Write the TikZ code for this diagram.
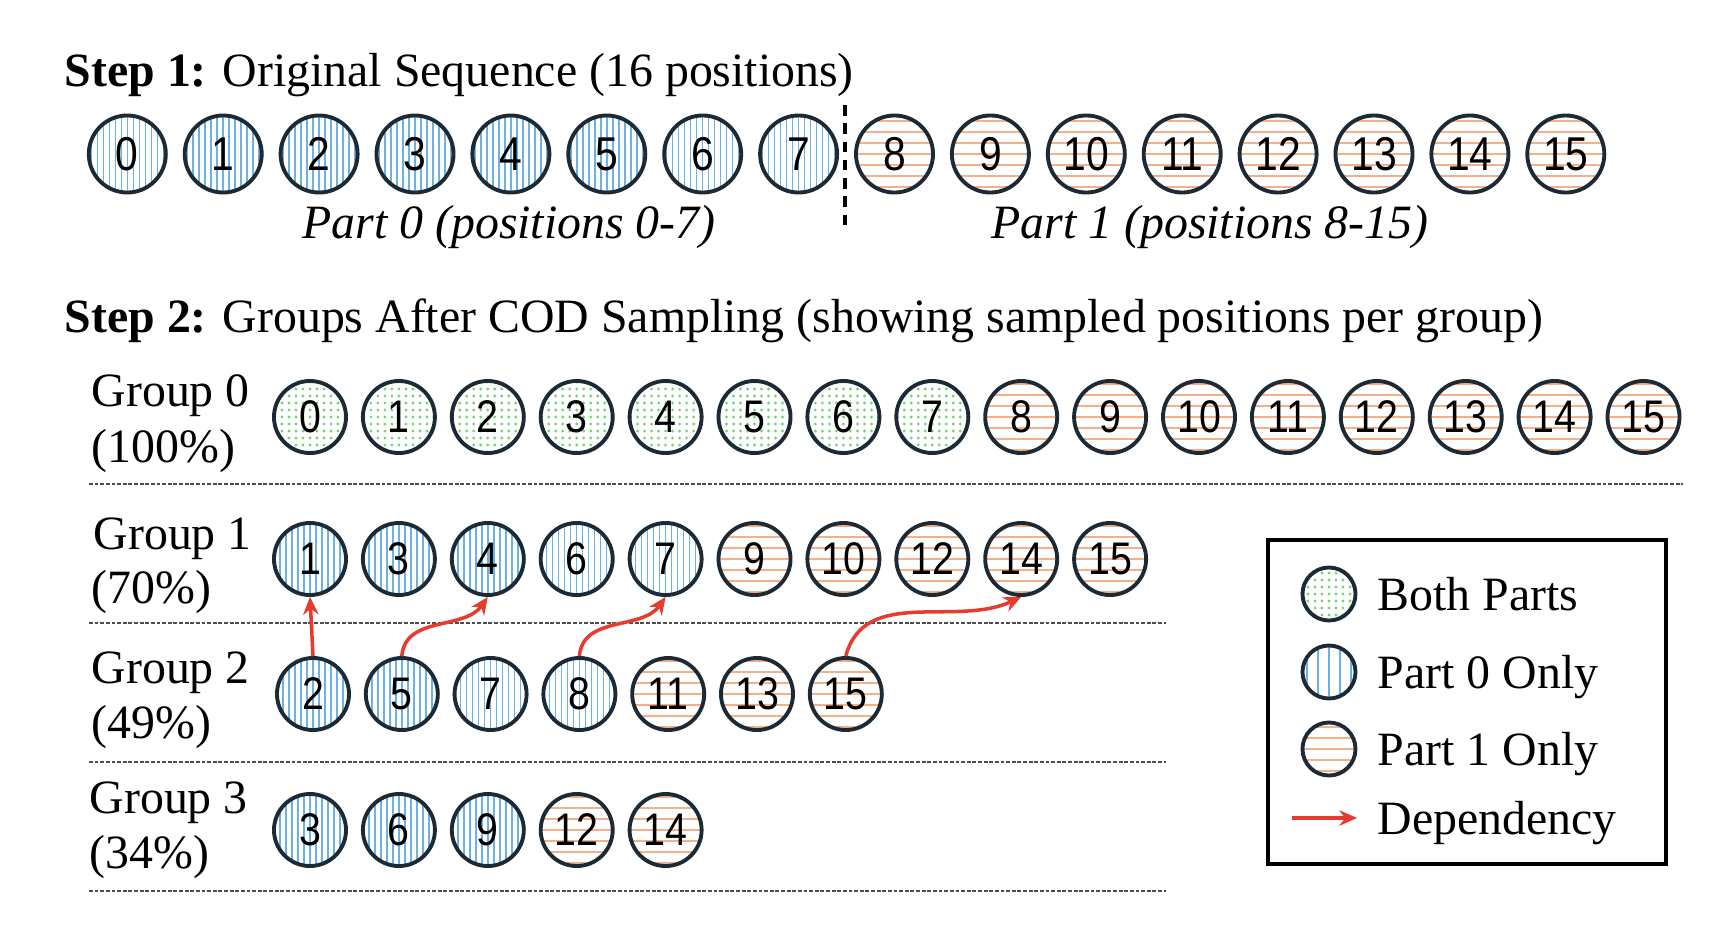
\documentclass[tikz,border=0pt]{standalone}
\usepackage{fontspec}
\setmainfont{Liberation Serif}
\newfontfamily\digfont{Liberation Sans}[FakeStretch=0.86]
\usetikzlibrary{arrows.meta}
\definecolor{ink}{HTML}{1C2A36}
\definecolor{bl}{HTML}{6DB2E4}
\definecolor{orl}{HTML}{F2B189}
\definecolor{grl}{HTML}{74D474}
\definecolor{dep}{HTML}{E63B2E}
\tikzset{
  circ/.style={circle,draw=ink,line width=1.1pt,fill=white,inner sep=0pt},
  bigc/.style={minimum size=0.77cm,font=\digfont\fontsize{13.5}{13.5}\selectfont},
  smlc/.style={minimum size=0.72cm,font=\digfont\fontsize{13}{13}\selectfont},
  legc/.style={minimum size=0.53cm},
  pzero/.style={path picture={\foreach \k in {-7,...,7}{\draw[bl,line width=0.42pt] ([xshift=\k*0.06cm]path picture bounding box.south) -- ([xshift=\k*0.06cm]path picture bounding box.north);}}},
  pone/.style={path picture={\foreach \k in {-4,...,4}{\draw[orl,line width=0.8pt] ([yshift=\k*0.11cm]path picture bounding box.west) -- ([yshift=\k*0.11cm]path picture bounding box.east);}}},
  pboth/.style={path picture={\foreach \i in {-6,...,6}{\foreach \j in {-6,...,6}{\fill[grl] ([shift={(\i*0.07cm,\j*0.07cm)}]path picture bounding box.center) circle (0.016cm);}}}},
  pzeroL/.style={path picture={\foreach \k in {-2,...,2}{\draw[bl,line width=0.5pt] ([xshift=\k*0.11cm]path picture bounding box.south) -- ([xshift=\k*0.11cm]path picture bounding box.north);}}},
  txt/.style={inner sep=0pt,font=\fontsize{13.6}{16}\selectfont},
  sepline/.style={draw=black!70,line width=0.55pt,dash pattern=on 1.1pt off 0.5pt},
  depa/.style={draw=dep,line width=1pt,-{Stealth[length=5pt,width=4.4pt]}},
}
\begin{document}
\begin{tikzpicture}[x=0.01cm,y=-0.01cm]
\useasboundingbox (0,0) rectangle (1736,948);
% Step 1
\node[txt,anchor=base west] (st1) at (64,86) {\textbf{Step 1:} Original Sequence (16 positions)};
\foreach \i in {0,...,7} \node[circ,bigc,pzero] (s\i) at ({127.3+95.9*\i},154) {\i};
\foreach \i in {8,...,15} \node[circ,bigc,pone] (s\i) at ({127.3+95.9*\i},154) {\i};
\coordinate (dvt) at (845,105);
\coordinate (dvb) at (845,227);
\draw[black,line width=0.9pt,dash pattern=on 3pt off 2.2pt] (dvt) -- (dvb);
\node[txt,anchor=base] (p0l) at (509,238) {\itshape Part 0 (positions 0-7)};
\node[txt,anchor=base] (p1l) at (1210,238) {\itshape Part 1 (positions 8-15)};
% Step 2
\node[txt,anchor=base west] (st2) at (64,332) {\textbf{Step 2:} Groups After COD Sampling (showing sampled positions per group)};
% Group 0
\node[txt,anchor=base west] (gl0a) at (91,406) {Group 0};
\node[txt,anchor=base west] (gl0b) at (91,462) {(100\%)};
\foreach \i in {0,...,7} \node[circ,smlc,pboth] (g0n\i) at ({310+88.9*\i},417) {\i};
\foreach \i in {8,...,15} \node[circ,smlc,pone] (g0n\i) at ({310+88.9*\i},417) {\i};
\draw[sepline] (89,484) -- (1683,484);
% Group 1
\node[txt,anchor=base west] (gl1a) at (93,549) {Group 1};
\node[txt,anchor=base west] (gl1b) at (91,603) {(70\%)};
\foreach \v/\s [count=\c from 0] in {1/pzero,3/pzero,4/pzero,6/pzero,7/pzero,9/pone,10/pone,12/pone,14/pone,15/pone}
  \node[circ,smlc,\s] (ga\c) at ({310+88.9*\c},559) {\v};
\draw[sepline] (89,623) -- (1166,623);
% Group 2
\node[txt,anchor=base west] (gl2a) at (91,683) {Group 2};
\node[txt,anchor=base west] (gl2b) at (91,738) {(49\%)};
\foreach \v/\s [count=\c from 0] in {2/pzero,5/pzero,7/pzero,8/pzero,11/pone,13/pone,15/pone}
  \node[circ,smlc,\s] (gb\c) at ({313+88.8*\c},694) {\v};
\draw[sepline] (89,762) -- (1166,762);
% Group 3
\node[txt,anchor=base west] (gl3a) at (89,813) {Group 3};
\node[txt,anchor=base west] (gl3b) at (89,868) {(34\%)};
\foreach \v/\s [count=\c from 0] in {3/pzero,6/pzero,9/pzero,12/pone,14/pone}
  \node[circ,smlc,\s] (gc\c) at ({310+88.9*\c},830) {\v};
\draw[sepline] (89,891) -- (1166,891);
% dependencies
\draw[depa] (gb0.north) -- (ga0.south);
\draw[depa] (gb1.north) to[out=85,in=-125] (ga2.south);
\draw[depa] (gb3.north) to[out=85,in=-125] (ga4.south);
\draw[depa] (gb6.north) to[out=75,in=-155] (ga8.south);
% legend
\draw[black,line width=1pt] (1268,540) rectangle (1666,864);
\node[circ,legc,pboth] (lg1) at (1329,594) {};
\node[circ,legc,pzeroL] (lg2) at (1329,672) {};
\node[circ,legc,pone] (lg3) at (1329,749) {};
\coordinate (la) at (1292,818);
\coordinate (lb) at (1357,818);
\draw[depa] (la) -- (lb);
\node[txt,anchor=base west] (lt1) at (1377,610) {Both Parts};
\node[txt,anchor=base west] (lt2) at (1377,688) {Part 0 Only};
\node[txt,anchor=base west] (lt3) at (1377,765) {Part 1 Only};
\node[txt,anchor=base west] (lt4) at (1377,834) {Dependency};
\end{tikzpicture}
\end{document}
